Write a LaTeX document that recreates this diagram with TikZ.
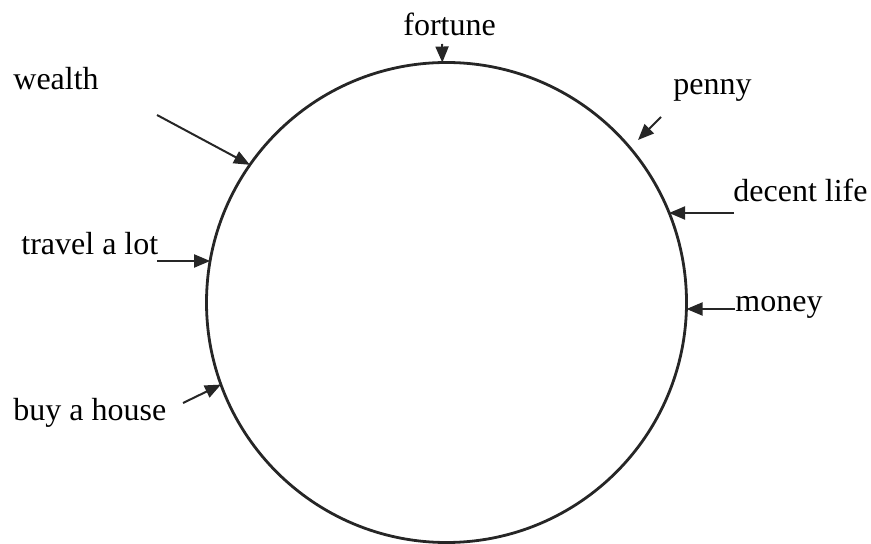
\documentclass[tikz,border=0pt]{standalone}
\usepackage{fontspec}
\setmainfont{Liberation Serif}
\usetikzlibrary{arrows.meta}

\tikzset{
  lbl/.style={font=\fontsize{16}{19}\selectfont,inner sep=0pt,anchor=base west},
  pointer/.style={-{Triangle[length=8pt,width=6.5pt]},line width=1pt,black!85},
  ring/.style={circle,draw=black!85,line width=1.4pt,minimum size=240pt,inner sep=0pt,outer sep=0pt}
}

\begin{document}
\begin{tikzpicture}[x=0.5pt,y=-0.5pt]
  \useasboundingbox (0,0) rectangle (871,544);
  \node[ring] (ring) at (446.5,302.5) {};
  % labels round the ring
  \node[lbl] (fortune) at (403,36) {fortune};
  \node[lbl] (wealth) at (13,90) {wealth};
  \node[lbl] (penny) at (673,95) {penny};
  \node[lbl] (decent) at (733,202) {decent life};
  \node[lbl] (travel) at (21,255) {travel a lot};
  \node[lbl] (money) at (735,312) {money};
  \node[lbl] (house) at (13,421) {buy a house};
  % tails of the arrows
  \coordinate (fortunetail) at (442,44);
  \coordinate (wealthtail) at (157,115);
  \coordinate (pennytail) at (661,117);
  \coordinate (pennyhead) at (638,140);
  \coordinate (decenttail) at (734,213);
  \coordinate (traveltail) at (157,261);
  \coordinate (moneytail) at (735,309);
  \coordinate (housetail) at (183,403);
  \draw[pointer] (fortunetail) -- (ring.91);
  \draw[pointer] (wealthtail) -- (ring.145);
  \draw[pointer] (pennytail) -- (pennyhead);
  \draw[pointer] (decenttail) -- (decenttail -| ring.22);
  \draw[pointer] (traveltail) -- (traveltail -| ring.170);
  \draw[pointer] (moneytail) -- (moneytail -| ring.east);
  \draw[pointer] (housetail) -- (ring.200);
\end{tikzpicture}
\end{document}
